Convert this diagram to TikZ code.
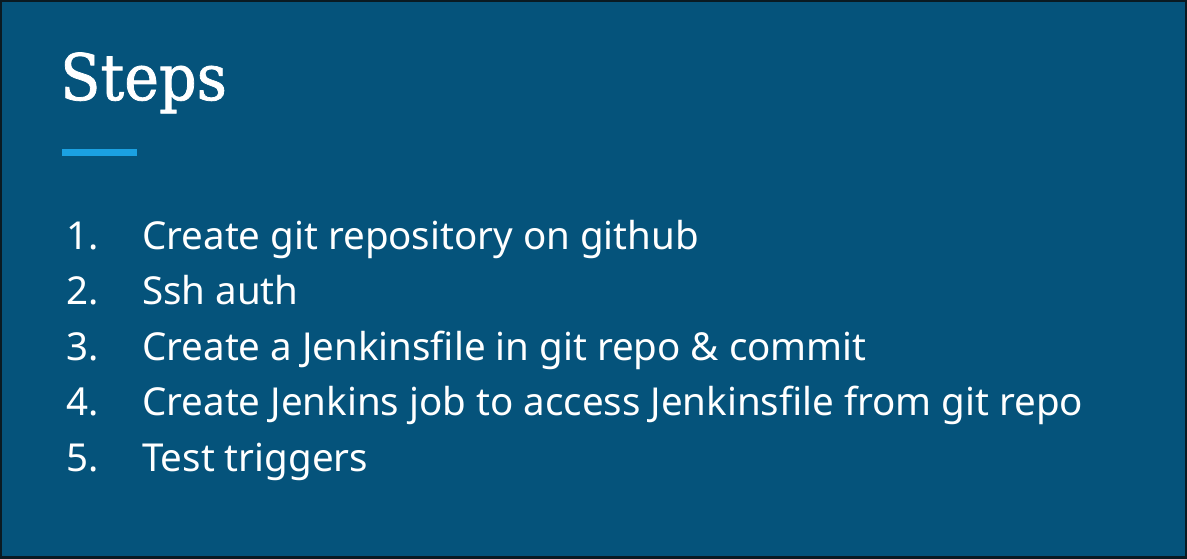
\documentclass[tikz,border=0pt]{standalone}
\usepackage{fontspec}
\setmainfont{Noto Sans}
\newfontfamily\titlefont[FakeStretch=0.92,FakeBold=1.2]{DejaVu Serif}
\definecolor{bg}{HTML}{05537B}
\definecolor{accent}{HTML}{1BA1E2}
\definecolor{edge}{HTML}{0A1A22}
\begin{document}
\begin{tikzpicture}[x=1pt,y=-1pt,
  item/.style={anchor=base west,text=white,inner sep=0pt,font=\fontsize{38.5}{44}\selectfont},
  num/.style={item}]
\fill[edge] (0,0) rectangle (1187,559);
\fill[bg] (2,2) rectangle (1185,556);
\useasboundingbox (0,0) rectangle (1187,559);
\node[anchor=base west,text=white,inner sep=0pt,font=\titlefont\fontsize{64}{70}\selectfont] (title) at (60,100) {Steps};
\fill[accent] (62,149) rectangle (137,156);
\foreach \n/\t [count=\i] in {1/Create git repository on github,2/Ssh auth,3/Create a Jenkinsfile in git repo \& commit,4/Create Jenkins job to access Jenkinsfile from git repo,5/Test triggers}{
  \node[num] (n\i) at (66,{249+(\i-1)*55.5}) {\n.};
  \node[item] (t\i) at (142,{249+(\i-1)*55.5}) {\t};
}
\end{tikzpicture}
\end{document}
